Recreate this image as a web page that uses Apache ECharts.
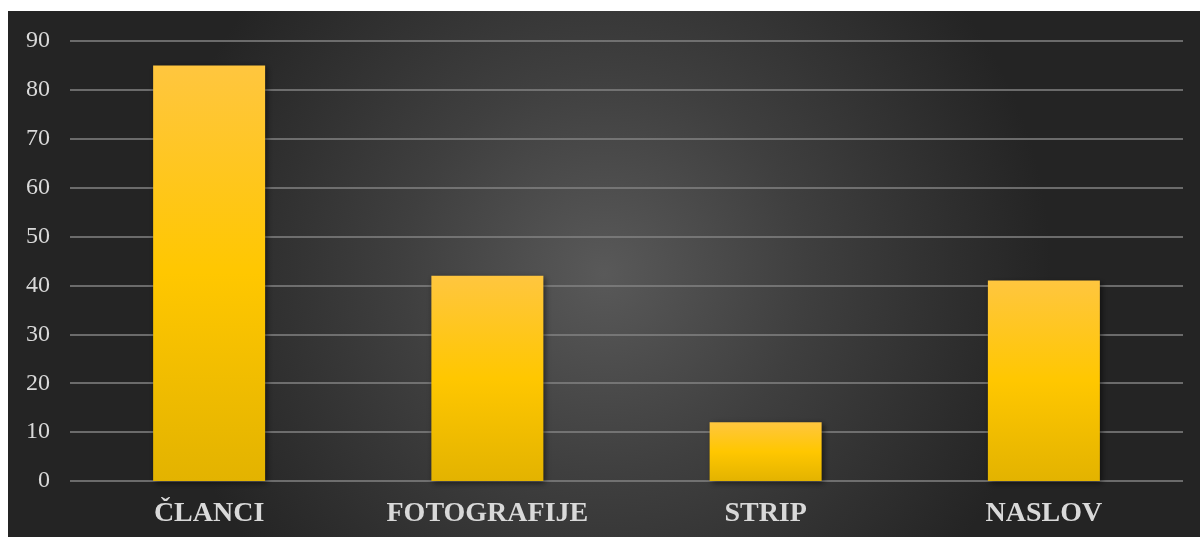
<!DOCTYPE html>
<html>
<head>
<meta charset="utf-8">
<script src="https://cdn.jsdelivr.net/npm/echarts@6/dist/echarts.min.js"></script>
<style>
html,body{margin:0;padding:0;background:#fff;}
#c{width:1200px;height:537px;}
</style>
</head>
<body>
<div id="c"></div>
<script>
var categories = ['ČLANCI', 'FOTOGRAFIJE', 'STRIP', 'NASLOV'];
var values = [85, 42, 12, 41];
var yTicks = { min: 0, max: 90, interval: 10 };

var chart = echarts.init(document.getElementById('c'));
chart.setOption({
  backgroundColor: '#ffffff',
  animation: false,
  graphic: [{
    type: 'rect',
    z: -10,
    silent: true,
    shape: { x: 8, y: 11, width: 1192, height: 526 },
    style: {
      fill: {
        type: 'radial', x: 0.5, y: 0.5, r: 0.85,
        colorStops: [
          { offset: 0, color: '#595959' },
          { offset: 0.45, color: '#3f3f3f' },
          { offset: 1, color: '#242424' }
        ]
      }
    }
  }],
  grid: { left: 70, right: 17, top: 41, bottom: 56, containLabel: false },
  xAxis: {
    type: 'category',
    data: categories,
    axisLine: { show: false },
    axisTick: { show: false },
    axisLabel: {
      margin: 19,
      color: '#d9d9d9',
      fontFamily: 'Liberation Serif',
      fontWeight: 'bold',
      fontSize: 28
    }
  },
  yAxis: {
    type: 'value',
    min: yTicks.min, max: yTicks.max, interval: yTicks.interval,
    axisLine: { show: false },
    axisTick: { show: false },
    axisLabel: {
      margin: 20,
      color: '#d9d9d9',
      fontFamily: 'Liberation Serif',
      fontSize: 24
    },
    splitLine: { lineStyle: { color: '#838383', width: 1.5 } }
  },
  series: [{
    type: 'bar',
    data: values,
    barWidth: 112,
    itemStyle: {
      color: {
        type: 'linear', x: 0, y: 0, x2: 0, y2: 1,
        colorStops: [
          { offset: 0, color: '#ffc63f' },
          { offset: 0.5, color: '#ffc700' },
          { offset: 1, color: '#e3b300' }
        ]
      },
      shadowColor: 'rgba(0,0,0,0.55)',
      shadowBlur: 6,
      shadowOffsetX: 2,
      shadowOffsetY: 2
    }
  }]
});
</script>
</body>
</html>
